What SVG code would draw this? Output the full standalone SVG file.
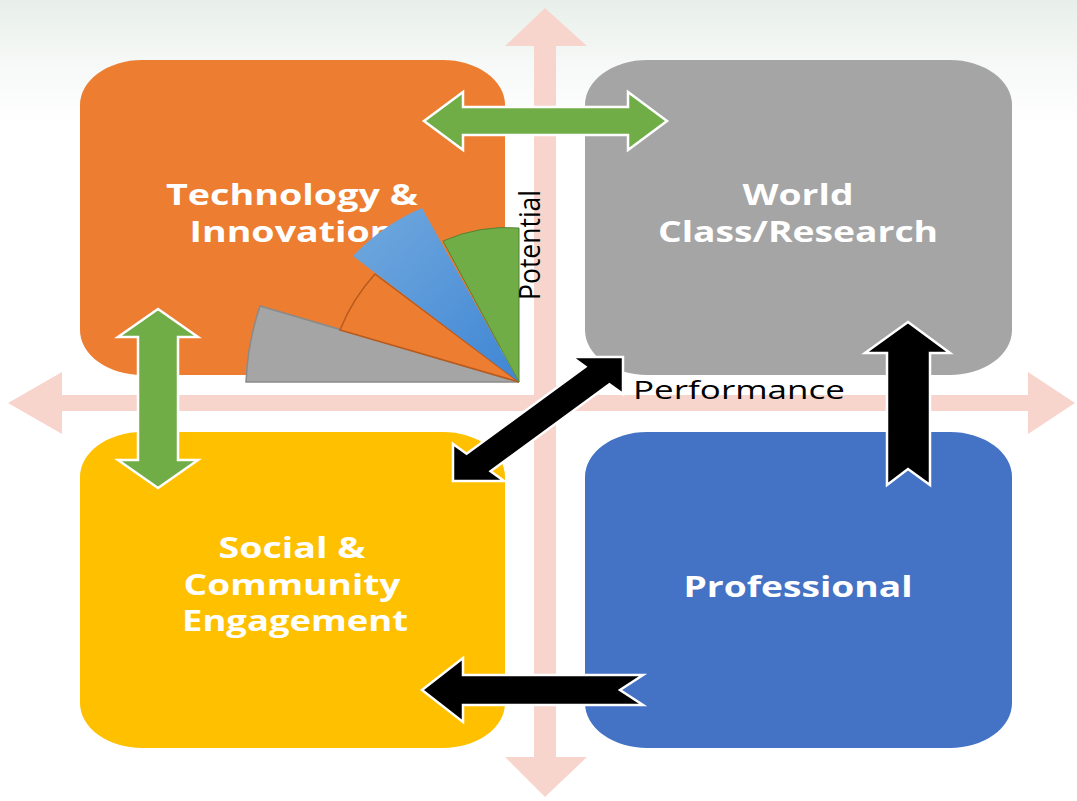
<svg xmlns="http://www.w3.org/2000/svg" width="1077" height="801" viewBox="0 0 1077 801">
<defs>
<linearGradient id="bg" x1="0" y1="0" x2="0" y2="1">
<stop offset="0" stop-color="#e8efea"/>
<stop offset="0.08" stop-color="#f6f9f7"/>
<stop offset="0.16" stop-color="#ffffff"/>
</linearGradient>
<linearGradient id="blueg" x1="0" y1="0" x2="1" y2="1">
<stop offset="0" stop-color="#72a9de"/>
<stop offset="1" stop-color="#3f86d4"/>
</linearGradient>
<style>
.axis{fill:#f8d5cc}
.box-text{fill:#ffffff;font-family:"Open Sans","DejaVu Sans",sans-serif;font-weight:700;font-size:29px;text-anchor:middle}
.axis-text{fill:#000000;font-family:"Open Sans","DejaVu Sans",sans-serif;font-size:26px}
.green{fill:#70ad47;stroke:#ffffff;stroke-width:2.5;stroke-linejoin:miter}
.black{fill:#000000;stroke:#ffffff;stroke-width:2.5;stroke-linejoin:miter}
</style>
</defs>
<rect x="0" y="0" width="1077" height="801" fill="url(#bg)"/>
<g id="axes">
<polygon class="axis" points="545,8 587,46 556,46 556,757 587,757 545,797 505,757 534,757 534,46 505,46"/>
<polygon class="axis" points="8,403 62,372 62,395 1028,395 1028,372 1075,403 1028,434 1028,411 62,411 62,434"/>
</g>
<g id="tech">
<rect x="80" y="60" width="425" height="315" rx="62" ry="45" fill="#ed7d31"/>
<text class="box-text" transform="translate(292,205) scale(1.3,1)" textLength="193.8" lengthAdjust="spacingAndGlyphs">Technology &amp;</text>
<text class="box-text" transform="translate(292,242) scale(1.3,1)" textLength="157.7" lengthAdjust="spacingAndGlyphs">Innovation</text>
</g>
<g id="world">
<rect x="585" y="60" width="427" height="315" rx="62" ry="45" fill="#a5a5a5"/>
<text class="box-text" transform="translate(798,205) scale(1.3,1)" textLength="85.4" lengthAdjust="spacingAndGlyphs">World</text>
<text class="box-text" transform="translate(798,242) scale(1.3,1)" textLength="215.4" lengthAdjust="spacingAndGlyphs">Class/Research</text>
</g>
<g id="social">
<rect x="80" y="432" width="425" height="316" rx="62" ry="45" fill="#ffc000"/>
<text class="box-text" transform="translate(292,558) scale(1.3,1)" textLength="113.1" lengthAdjust="spacingAndGlyphs">Social &amp;</text>
<text class="box-text" transform="translate(292,595) scale(1.3,1)" textLength="166.9" lengthAdjust="spacingAndGlyphs">Community</text>
<text class="box-text" transform="translate(295,631) scale(1.3,1)" textLength="173.8" lengthAdjust="spacingAndGlyphs">Engagement</text>
</g>
<g id="professional">
<rect x="585" y="432" width="427" height="316" rx="62" ry="45" fill="#4472c4"/>
<text class="box-text" transform="translate(798,597) scale(1.3,1)" textLength="176.2" lengthAdjust="spacingAndGlyphs">Professional</text>
</g>
<g id="fan">
<path d="M519,382 L246,382 A273,273 0 0 1 260,306 Z" fill="#a5a5a5" stroke="#8a8a8a" stroke-width="1.5"/>
<path d="M519,382 L340,330 A185,185 0 0 1 375,274 Z" fill="#ed7d31" stroke="#b85a1c" stroke-width="1.5"/>
<path d="M519,382 L353,256 A207,207 0 0 1 422,208 Z" fill="url(#blueg)"/>
<path d="M519,382 L443,241 A158,158 0 0 1 519,228 Z" fill="#70ad47" stroke="#548235" stroke-width="1"/>
</g>
<g id="axis-labels">
<text class="axis-text" transform="translate(540,300) scale(1.15,1) rotate(-90)" textLength="110" lengthAdjust="spacingAndGlyphs">Potential</text>
<text class="axis-text" transform="translate(633,399) scale(1.38,1)" textLength="153.6" lengthAdjust="spacingAndGlyphs">Performance</text>
</g>
<g id="connectors">
<polygon class="green" points="424,121 463,92 463,107 628,107 628,92 667,121 628,150 628,135 463,135 463,150"/>
<polygon class="green" points="158,309 198,337 178,337 178,460 198,460 158,488 118,460 138,460 138,337 118,337"/>
<polygon class="black" points="908,322 950,353 930,353 930,485 908,469 887,485 887,353 865,353"/>
<polygon class="black" points="422,690 463,658 463,675 643,675 620,690 643,705 463,705 463,722"/>
<polygon class="black" points="453,481 453,444 466.6,453.8 585.4,366.8 571.9,357 623,357 623,394 609.4,384.2 490.6,471.2 504.1,481"/>
</g>
</svg>
